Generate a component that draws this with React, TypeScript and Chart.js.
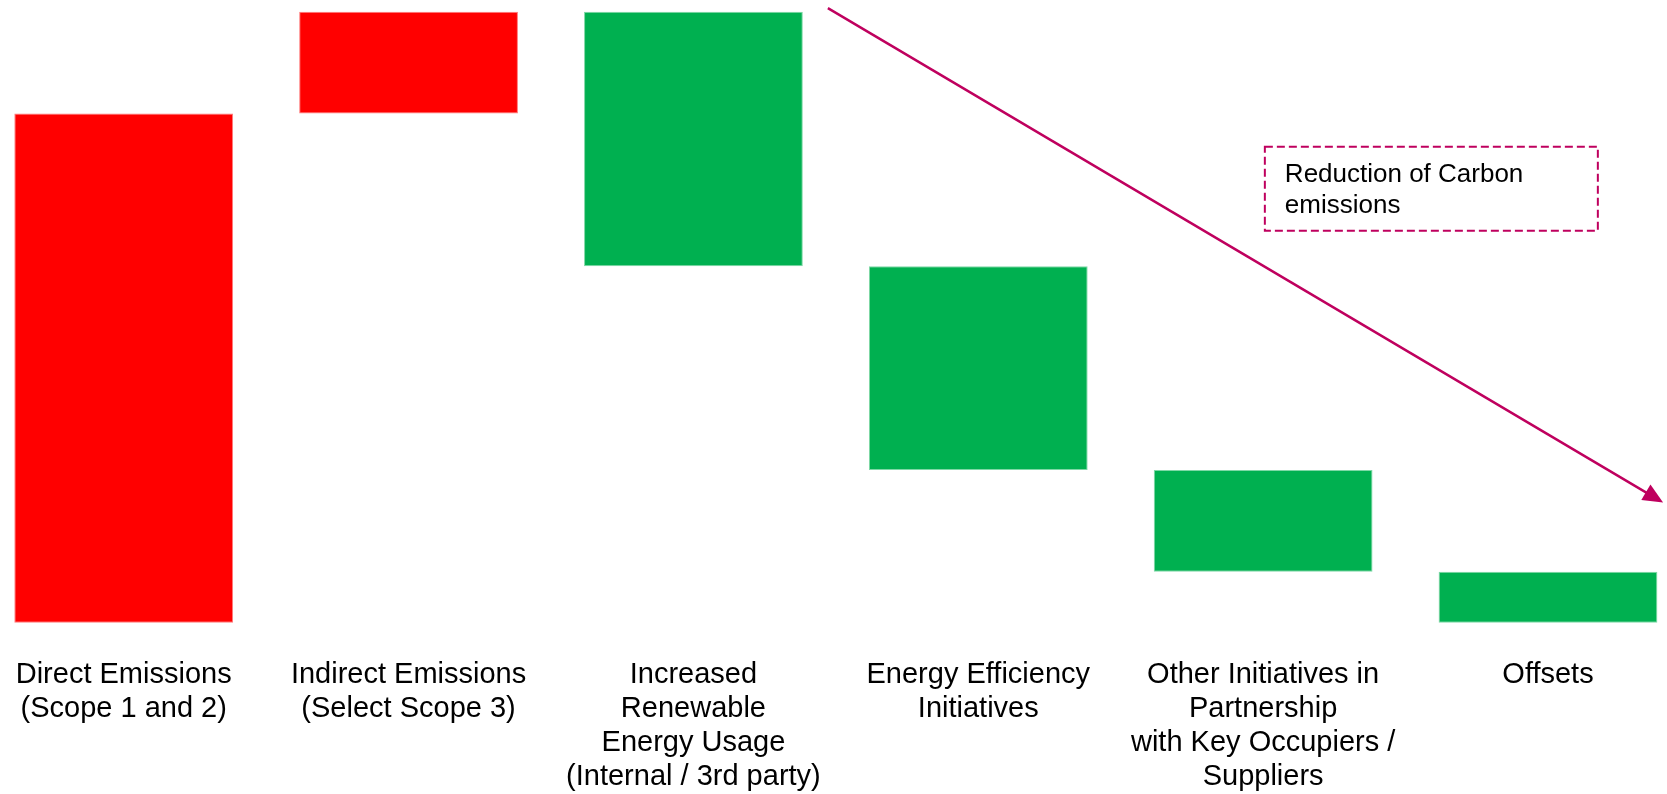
import React, { useEffect, useRef } from "react";
import { Chart, registerables } from "chart.js";

Chart.register(...registerables);

// ---- Data ----
const categories: string[][] = [
  ["Direct Emissions", "(Scope 1 and 2)"],
  ["Indirect Emissions", "(Select Scope 3)"],
  ["Increased", "Renewable", "Energy Usage", "(Internal / 3rd party)"],
  ["Energy Efficiency", "Initiatives"],
  ["Other Initiatives in", "Partnership", "with Key Occupiers /", "Suppliers"],
  ["Offsets"],
];
// change contributed by each step (waterfall)
const changes: number[] = [10, 2, -5, -4, -2, -1];

const increaseColor = "#FF0000";
const decreaseColor = "#00B050";
const increaseEdge = "#FF7A7A";
const decreaseEdge = "#7FD8A6";
const accentColor = "#BF005E";

// annotation (in scale units: x = category index, y = value)
const arrowStart = { x: 2.472, y: 12.07 };
const arrowEnd = { x: 5.404, y: 2.36 };
const noteBox = { x1: 4.006, x2: 5.175, y1: 9.35, y2: 7.7 };
const noteLines = ["Reduction of Carbon", "emissions"];

const FONT = "'Liberation Sans', Arial, Helvetica, sans-serif";

export default function App() {
  const ref = useRef<HTMLCanvasElement>(null);

  useEffect(() => {
    if (!ref.current) return;
    // build floating ranges from running totals
    const ranges: [number, number][] = [];
    let total = 0;
    changes.forEach((c) => {
      const start = total;
      total += c;
      ranges.push([Math.min(start, total), Math.max(start, total)]);
    });
    const fills = changes.map((c) => (c >= 0 ? increaseColor : decreaseColor));
    const edges = changes.map((c) => (c >= 0 ? increaseEdge : decreaseEdge));

    const annotations = {
      id: "annotations",
      afterDraw(chart: any) {
        const ctx = chart.ctx as CanvasRenderingContext2D;
        const xs = chart.scales.x;
        const ys = chart.scales.y;
        ctx.save();
        // arrow
        const sx = xs.getPixelForValue(arrowStart.x);
        const sy = ys.getPixelForValue(arrowStart.y);
        const ex = xs.getPixelForValue(arrowEnd.x);
        const ey = ys.getPixelForValue(arrowEnd.y);
        const ang = Math.atan2(ey - sy, ex - sx);
        const headLen = 20;
        const headHalf = 9;
        const bx = ex - headLen * Math.cos(ang);
        const by = ey - headLen * Math.sin(ang);
        ctx.strokeStyle = accentColor;
        ctx.lineWidth = 2.4;
        ctx.beginPath();
        ctx.moveTo(sx, sy);
        ctx.lineTo(bx + 2 * Math.cos(ang), by + 2 * Math.sin(ang));
        ctx.stroke();
        ctx.fillStyle = accentColor;
        ctx.beginPath();
        ctx.moveTo(ex, ey);
        ctx.lineTo(bx + headHalf * Math.sin(ang), by - headHalf * Math.cos(ang));
        ctx.lineTo(bx - headHalf * Math.sin(ang), by + headHalf * Math.cos(ang));
        ctx.closePath();
        ctx.fill();
        // dashed note box
        const l = xs.getPixelForValue(noteBox.x1);
        const r = xs.getPixelForValue(noteBox.x2);
        const t = ys.getPixelForValue(noteBox.y1);
        const b = ys.getPixelForValue(noteBox.y2);
        ctx.setLineDash([8, 4]);
        ctx.lineWidth = 2;
        ctx.strokeRect(l, t, r - l, b - t);
        ctx.setLineDash([]);
        ctx.fillStyle = "#000";
        ctx.font = `26px ${FONT}`;
        ctx.textBaseline = "alphabetic";
        ctx.textAlign = "left";
        noteLines.forEach((line, i) => {
          ctx.fillText(line, l + 20, t + 35 + i * 31.5);
        });
        ctx.restore();
      },
    };

    const chart = new Chart(ref.current, {
      type: "bar",
      data: {
        labels: categories as any,
        datasets: [
          {
            data: ranges as any,
            backgroundColor: fills,
            borderColor: edges,
            borderWidth: 1,
            borderSkipped: false,
            categoryPercentage: 1,
            barPercentage: 0.768,
            clip: false as any,
          },
        ],
      },
      options: {
        animation: false,
        responsive: true,
        maintainAspectRatio: false,
        layout: { padding: { left: 123.7, right: 119, top: 11.7, bottom: 0 } },
        plugins: {
          legend: { display: false },
          tooltip: { enabled: false },
          title: { display: false },
        },
        scales: {
          x: {
            offset: false,
            grid: { display: false, drawTicks: true, tickLength: 26 },
            border: { display: false },
            ticks: {
              color: "#000",
              font: { family: FONT, size: 29, lineHeight: 1.17 },
              padding: 9.5,
              autoSkip: false,
              maxRotation: 0,
              minRotation: 0,
            },
            afterFit(scale: any) {
              scale.height = 171.3;
            },
          },
          y: {
            display: false,
            min: 0,
            max: 12,
          },
        },
      },
      plugins: [annotations],
    });
    return () => chart.destroy();
  }, []);

  return (
    <div
      style={{
        position: "absolute",
        left: 0,
        top: 0,
        width: 1667,
        height: 794,
        background: "#fff",
      }}
    >
      <canvas ref={ref} />
    </div>
  );
}
